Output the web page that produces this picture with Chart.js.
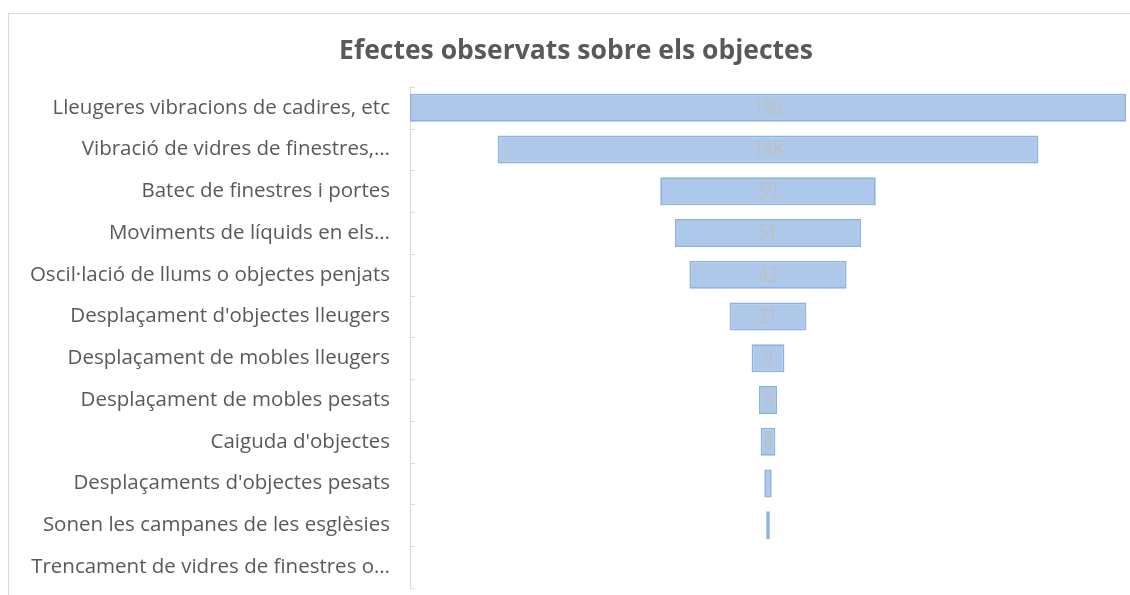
<!DOCTYPE html>
<html>
<head>
<meta charset="utf-8">
<script src="https://cdn.jsdelivr.net/npm/chart.js@4"></script>
<style>
  html, body { margin: 0; padding: 0; background: #fff; overflow: hidden; }
  #frame { position: absolute; left: 8px; top: 13px; width: 2000px; height: 2000px; border: 1px solid #d9d9d9; }
  #funnelChart { position: absolute; left: 0; top: 0; }
</style>
</head>
<body>
<div id="frame"></div>
<canvas id="funnelChart" width="1130" height="595"></canvas>
<script>
// Categories as shown (truncated the same way as the source picture)
const categories = [
    "Lleugeres vibracions de cadires, etc",
    "Vibració de vidres de finestres,…",
    "Batec de finestres i portes",
    "Moviments de líquids en els…",
    "Oscil·lació de llums o objectes penjats",
    "Desplaçament d'objectes lleugers",
    "Desplaçament de mobles lleugers",
    "Desplaçament de mobles pesats",
    "Caiguda d'objectes",
    "Desplaçaments d'objectes pesats",
    "Sonen les campanes de les esglèsies",
    "Trencament de vidres de finestres o…"
];
const counts = [196, 148, 59, 51, 43, 21, 9, 5, 4, 2, 1, 0];
const maxCount = 196;

// funnel: every bar is centred on zero
const funnelData = counts.map(v => [-v / 2, v / 2]);

// value labels in the middle of each bar, only when they fit
const barLabels = {
    id: "barLabels",
    afterDatasetsDraw(chart) {
        const ctx = chart.ctx;
        const meta = chart.getDatasetMeta(0);
        ctx.save();
        ctx.font = "21px 'Open Sans'";
        ctx.fillStyle = "#bfbfbf";
        ctx.textAlign = "center";
        ctx.textBaseline = "middle";
        meta.data.forEach((bar, i) => {
            const txt = String(counts[i]);
            const w = Math.abs(bar.x - bar.base);
            if (w > ctx.measureText(txt).width * 0.8 + 2) {
                ctx.save();
                ctx.translate((bar.x + bar.base) / 2, bar.y + 1);
                ctx.scale(0.8, 1);
                ctx.fillText(txt, 0, 0);
                ctx.restore();
            }
        });
        ctx.restore();
    }
};

// small tick marks pointing inward from the category axis
const innerTicks = {
    id: "innerTicks",
    afterDraw(chart) {
        const ctx = chart.ctx;
        const area = chart.chartArea;
        const step = (area.bottom - area.top) / categories.length;
        ctx.save();
        ctx.strokeStyle = "#d9d9d9";
        ctx.lineWidth = 1;
        for (let i = 0; i <= categories.length; i++) {
            const py = Math.round(area.top + i * step) + 0.5;
            ctx.beginPath();
            ctx.moveTo(area.left, py);
            ctx.lineTo(area.left + 5, py);
            ctx.stroke();
        }
        ctx.restore();
    }
};

new Chart(document.getElementById("funnelChart"), {
    type: "bar",
    data: {
        labels: categories,
        datasets: [{
            data: funnelData,
            backgroundColor: "#adc8e8",
            borderColor: "#8cb2e2",
            borderWidth: ctx => counts[ctx.dataIndex] > 0 ? 1.8 : 0,
            borderSkipped: false,
            barPercentage: 0.67,
            categoryPercentage: 1
        }]
    },
    options: {
        indexAxis: "y",
        responsive: false,
        animation: false,
        layout: { padding: { left: 26, right: 4, top: 20, bottom: 7 } },
        plugins: {
            legend: { display: false },
            tooltip: { enabled: false },
            title: {
                display: true,
                text: "Efectes observats sobre els objectes",
                color: "#595959",
                font: { family: "'Open Sans'", size: 26.5, weight: "bold" },
                padding: { top: 16, bottom: 19 }
            }
        },
        scales: {
            x: { display: false, min: -maxCount / 2, max: maxCount / 2 },
            y: {
                offset: true,
                grid: { display: false },
                border: { display: true, color: "#d9d9d9" },
                ticks: {
                    color: "#595959",
                    font: { family: "'Open Sans'", size: 20.5 },
                    padding: 12
                },
                afterFit(scale) {
                    scale.width = 384;
                    scale.paddingTop = 0;
                    scale.paddingBottom = 0;
                }
            }
        }
    },
    plugins: [barLabels, innerTicks]
});
</script>
</body>
</html>
